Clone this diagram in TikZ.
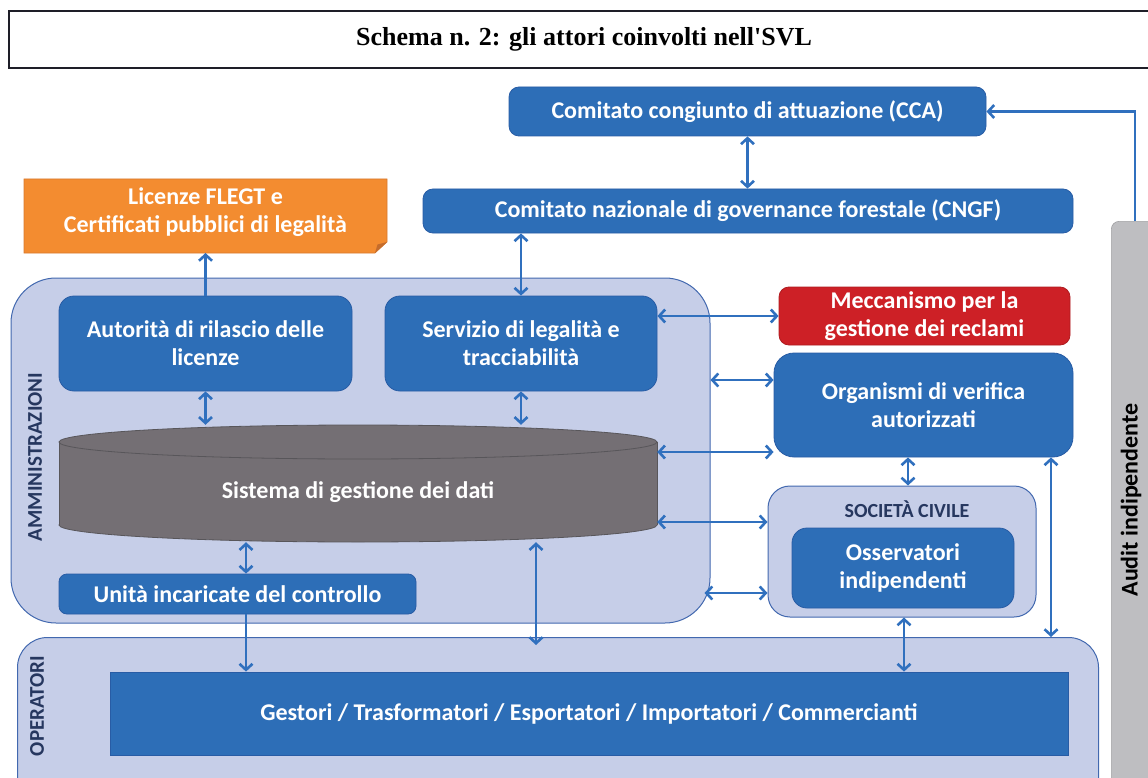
\documentclass[tikz,border=0pt]{standalone}
\usepackage{fontspec}
\setmainfont{Carlito}
\newfontfamily\titlefont{Liberation Serif}
\usetikzlibrary{arrows.meta,calc}
\definecolor{boxblue}{RGB}{45,110,183}
\definecolor{boxedge}{RGB}{40,92,165}
\definecolor{contfill}{RGB}{198,206,232}
\definecolor{contedge}{RGB}{66,104,175}
\definecolor{arrblue}{RGB}{48,112,190}
\definecolor{redbox}{RGB}{205,32,38}
\definecolor{orangebox}{RGB}{243,140,48}
\definecolor{orangedark}{RGB}{196,108,44}
\definecolor{cylgray}{RGB}{116,111,116}
\definecolor{cyledge}{RGB}{88,86,90}
\definecolor{auditgray}{RGB}{190,190,193}
\definecolor{navytext}{RGB}{38,55,95}
\definecolor{titleedge}{RGB}{30,30,40}
\begin{document}
\begin{tikzpicture}[x=1pt,y=-1pt,
  boxtext/.style={text=white, font=\fontsize{24}{28}\selectfont\bfseries, align=center},
  bluebox/.style={boxtext, fill=boxblue, draw=boxedge, line width=0.8pt, rounded corners=#1, inner sep=0pt},
  bluebox/.default=10pt,
  container/.style={fill=contfill, draw=contedge, line width=1pt, rounded corners=#1, inner sep=0pt},
  sidelabel/.style={rotate=90, text=navytext, font=\fontsize{21}{24}\selectfont\bfseries},
  arr/.style={draw=arrblue, line width=2.6pt, >={Straight Barb[length=6pt,width=13pt]}}
]
\useasboundingbox (0,0) rectangle (1148,778);
\clip (0,0) rectangle (1148,778);

% title
\node[draw=titleedge, line width=2pt, minimum width=1150pt, minimum height=57pt, inner sep=0pt,
      font=\titlefont\bfseries\fontsize{26}{30}\selectfont] (title) at (584,39.5) {Schema n. 2: gli attori coinvolti nell'SVL};

% committees
\node[bluebox, minimum width=477pt, minimum height=49pt] (cca) at (747.5,111.5) {Comitato congiunto di attuazione (CCA)};
\node[bluebox, minimum width=650pt, minimum height=44pt] (cngf) at (748,211) {Comitato nazionale di governance forestale (CNGF)};

% orange licence box
\path[fill=orangebox, draw=orangedark!60!orangebox, line width=0.6pt] (24,179) -- (387,179) -- (387,242) -- (375,253) -- (24,253) -- cycle;
\fill[orangedark] (387,242) -- (375,253) -- (377.5,244.5) -- cycle;
\node[boxtext, inner sep=0pt] (flegt) at (205.5,212) {Licenze FLEGT e\\Certificati pubblici di legalità};
\coordinate (flegtbottom) at (205.5,253);

% administrations
\node[container=45pt, minimum width=699pt, minimum height=345pt] (admin) at (360.5,450.5) {};
\node[bluebox=15pt, minimum width=293pt, minimum height=95pt] (aut) at (205.5,343.5) {Autorità di rilascio delle\\licenze};
\node[bluebox=15pt, minimum width=272pt, minimum height=95pt] (serv) at (521,343.5) {Servizio di legalità e\\tracciabilità};

% cylinder
\path[fill=cylgray, draw=cyledge, line width=0.8pt] (358,525) ellipse [x radius=299, y radius=17];
\fill[cylgray] (59,442) rectangle (657,525);
\draw[cyledge, line width=0.8pt] (59,442) -- (59,525) (657,442) -- (657,525);
\path[fill=cylgray, draw=cyledge, line width=0.8pt] (358,442) ellipse [x radius=299, y radius=17];
\node[inner sep=0pt, minimum width=598pt, minimum height=117pt] (cyl) at (358,483.5) {};
\node[boxtext] (cyltext) at (358,492) {Sistema di gestione dei dati};

\node[bluebox=8pt, minimum width=357pt, minimum height=40pt] (unita) at (237.5,594) {Unità incaricate del controllo};
\node[sidelabel] (amm) at (35,457) {AMMINISTRAZIONI};

% right side
\node[bluebox=10pt, fill=redbox, draw=redbox!85!black, minimum width=291pt, minimum height=58pt] (mecc) at (924.5,316) {Meccanismo per la\\gestione dei reclami};
\node[bluebox=20pt, minimum width=299pt, minimum height=104pt] (org) at (923.5,405) {Organismi di verifica\\autorizzati};
\node[container=22pt, minimum width=268pt, minimum height=131pt] (soc) at (902,551.5) {};
\node[text=navytext, font=\fontsize{20}{23}\selectfont\bfseries] (soclabel) at (907,509) {SOCIETÀ CIVILE};
\node[bluebox=15pt, minimum width=222pt, minimum height=80pt] (oss) at (903,568) {Osservatori\\indipendenti};

% operators
\node[container=30pt, minimum width=1081pt, minimum height=180pt, anchor=north west] (oper) at (17,637) {};
\node[sidelabel] (oplabel) at (37,706) {OPERATORI};
\node[boxtext, fill=boxblue, draw=boxedge, line width=0.8pt, inner sep=0pt, minimum width=958pt, minimum height=83pt] (gest) at (589,713.5) {Gestori / Trasformatori / Esportatori / Importatori / Commercianti};

% audit
\node[fill=auditgray, draw=auditgray!85!black, line width=0.6pt, rounded corners=8pt, inner sep=0pt,
      minimum width=60pt, minimum height=600pt, anchor=north west] (audit) at (1111,221) {};
\node[rotate=90, font=\fontsize{24}{28}\selectfont\bfseries, text=black] (auditlabel) at (1131,500) {Audit indipendente};
\coordinate (audtop) at (1135,221);

% connectors
\draw[arr,->] (aut.north) -- (aut.north |- flegtbottom);
\draw[arr,<->] (cca.south) -- (cca.south |- cngf.north);
\draw[arr,<->] (cngf.south -| serv.north) -- (serv.north);
\draw[arr,->] (audtop) |- (cca.east);
\draw[arr,<->] (serv.east |- mecc.west) -- (mecc.west);
\draw[arr,<->] (admin.east |- 0,380) -- (org.west |- 0,380);
\draw[arr,<->] (cyl.east |- 0,452) -- (org.west |- 0,452);
\draw[arr,<->] (cyl.east |- 0,522) -- (soc.west |- 0,522);
\draw[arr,<->, shorten <=-6pt] (admin.east |- 0,593) -- (soc.west |- 0,593);
\draw[arr,<->] (org.south -| 908,0) -- (soc.north -| 908,0);
\draw[arr,<->] (org.south -| 1051,0) -- (oper.north -| 1051,0);
\draw[arr,<->] (soc.south -| 904,0) -- (gest.north -| 904,0);
\draw[arr,<->] (aut.south) -- (aut.south |- cyl.north);
\draw[arr,<->] (serv.south) -- (serv.south |- cyl.north);
\draw[arr,<->] (cyl.south -| 246,0) -- (unita.north -| 246,0);
\draw[arr,->] (unita.south -| 246,0) -- (gest.north -| 246,0);
\draw[arr,<->, shorten >=-8pt] (cyl.south -| 536,0) -- (oper.north -| 536,0);
\end{tikzpicture}
\end{document}
